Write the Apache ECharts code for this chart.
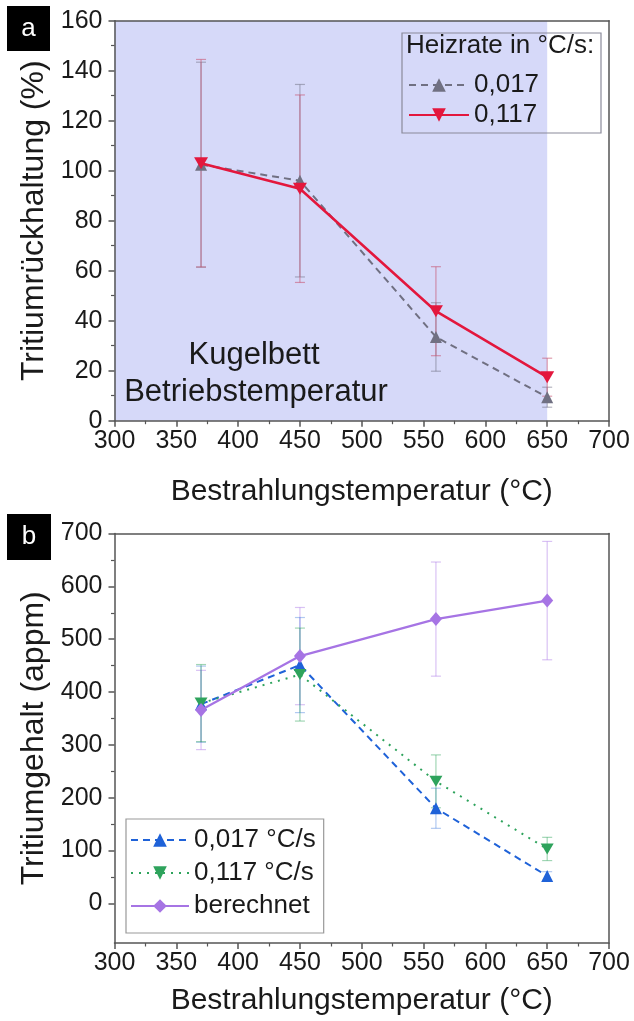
<!DOCTYPE html>
<html>
<head>
<meta charset="utf-8">
<script src="https://cdn.jsdelivr.net/npm/echarts@6/dist/echarts.min.js"></script>
<style>
html,body{margin:0;padding:0;background:#fff;}
#chart{width:634px;height:1021px;}
</style>
</head>
<body>
<div id="chart"></div>
<script>
// ---------- data ----------
const temps = [370, 450, 560, 650];
// panel a: Tritiumrückhaltung (%)
const retention017 = [102.4, 96, 33.5, 9.4];
const retention017Err = [41, 38.5, 13.7, 4];
const retention117 = [103, 92.8, 43.8, 17.4];
const retention117Err = [41.5, 37.5, 17.8, 7.6];
// panel b: Tritiumgehalt (appm)
const content017 = [377, 451, 180, 52];
const content017Err = [72, 90, 38, 8];
const content117 = [379, 433, 231, 103];
const content117Err = [73, 88, 50, 22];
const calculated = [366, 468, 538, 573];
const calculatedErr = [75, 92, 108, 112];
// shaded range (Kugelbett Betriebstemperatur)
const shadeRange = [300, 650];
// ticks
const xMin = 300, xMax = 700, xStep = 50;
const yTopMin = 0, yTopMax = 160, yTopStep = 20;
const yBotMin = -75, yBotMax = 700;
const yBotMajor = [0, 100, 200, 300, 400, 500, 600, 700];
const yBotMinor = [50, 150, 250, 350, 450, 550, 650];

const FONT = 'Liberation Sans, Arial, sans-serif';
const TXT = '#1a1a1a';
const AX = '#555';

const pts = (ys) => temps.map((t, i) => [t, ys[i]]);
const errPts = (ys, es) => temps.map((t, i) => [t, ys[i] - es[i], ys[i] + es[i]]);
const downTri = 'path://M0,0L10,0L5,8.66Z';

function errRender(color) {
  return function (params, api) {
    const x = api.value(0), lo = api.value(1), hi = api.value(2);
    const p1 = api.coord([x, hi]), p2 = api.coord([x, lo]);
    const w = 5;
    const style = { stroke: color, lineWidth: 1.2 };
    return {
      type: 'group', children: [
        { type: 'line', shape: { x1: p1[0], y1: p1[1], x2: p2[0], y2: p2[1] }, style },
        { type: 'line', shape: { x1: p1[0] - w, y1: p1[1], x2: p1[0] + w, y2: p1[1] }, style },
        { type: 'line', shape: { x1: p2[0] - w, y1: p2[1], x2: p2[0] + w, y2: p2[1] }, style }
      ]
    };
  };
}

const labelStyle = { fontFamily: FONT, fontSize: 25, color: TXT };
const nameStyle = { fontFamily: FONT, fontSize: 30, color: TXT };
const yNameStyle = { fontFamily: FONT, fontSize: 32, color: TXT };

function xAxisBottom(gridIndex, nameGap) {
  return {
    gridIndex, type: 'value', min: xMin, max: xMax, interval: xStep, position: 'bottom', z: 10,
    name: 'Bestrahlungstemperatur (°C)', nameLocation: 'middle', nameGap, nameTextStyle: nameStyle,
    axisLine: { show: true, onZero: false, lineStyle: { color: AX, width: 1.5 } },
    axisTick: { show: true, inside: false, length: 6, lineStyle: { color: AX, width: 1.5 } },
    minorTick: { show: true, splitNumber: 2, length: 3.5, lineStyle: { color: AX, width: 1.2 } },
    axisLabel: Object.assign({ margin: 8 }, labelStyle),
    splitLine: { show: false }
  };
}
function xAxisTop(gridIndex) {
  return {
    gridIndex, type: 'value', min: xMin, max: xMax, position: 'top', z: 10,
    axisLine: { show: true, onZero: false, lineStyle: { color: AX, width: 1.5 } },
    axisTick: { show: false }, axisLabel: { show: false }, splitLine: { show: false }
  };
}
function yAxisRight(gridIndex, min, max) {
  return {
    gridIndex, type: 'value', min, max, position: 'right', z: 10,
    axisLine: { show: true, onZero: false, lineStyle: { color: AX, width: 1.5 } },
    axisTick: { show: false }, axisLabel: { show: false }, splitLine: { show: false }
  };
}

const option = {
  animation: false,
  backgroundColor: '#fff',
  textStyle: { fontFamily: FONT },
  grid: [
    { left: 114.5, top: 20.7, width: 494.5, height: 400 },
    { left: 114.5, top: 533.5, width: 494.5, height: 409.5 }
  ],
  xAxis: [
    xAxisBottom(0, 56),
    xAxisTop(0),
    xAxisBottom(1, 43),
    xAxisTop(1)
  ],
  yAxis: [
    {
      gridIndex: 0, type: 'value', min: yTopMin, max: yTopMax, interval: yTopStep, position: 'left', z: 10,
      name: 'Tritiumrückhaltung (%)', nameLocation: 'middle', nameGap: 62, nameTextStyle: yNameStyle,
      axisLine: { show: true, onZero: false, lineStyle: { color: AX, width: 1.5 } },
      axisTick: { show: true, inside: false, length: 6, lineStyle: { color: AX, width: 1.5 } },
      minorTick: { show: true, splitNumber: 2, length: 3.5, lineStyle: { color: AX, width: 1.2 } },
      axisLabel: Object.assign({ margin: 12 }, labelStyle),
      splitLine: { show: false }
    },
    yAxisRight(0, yTopMin, yTopMax),
    {
      gridIndex: 1, type: 'value', min: yBotMin, max: yBotMax, position: 'left', z: 10,
      name: 'Tritiumgehalt (appm)', nameLocation: 'middle', nameGap: 62, nameTextStyle: yNameStyle,
      axisLine: { show: true, onZero: false, lineStyle: { color: AX, width: 1.5 } },
      axisTick: { show: true, inside: false, length: 6, customValues: yBotMajor, lineStyle: { color: AX, width: 1.5 } },
      axisLabel: Object.assign({ margin: 12, customValues: yBotMajor }, labelStyle),
      splitLine: { show: false }
    },
    {
      gridIndex: 1, type: 'value', min: yBotMin, max: yBotMax, position: 'left', z: 10,
      axisLine: { show: false, onZero: false },
      axisTick: { show: true, inside: false, length: 3.5, customValues: yBotMinor, lineStyle: { color: AX, width: 1.2 } },
      axisLabel: { show: false, customValues: yBotMinor },
      splitLine: { show: false }
    },
    yAxisRight(1, yBotMin, yBotMax)
  ],
  legend: [
    {
      orient: 'vertical', left: 403, top: 67, itemWidth: 60, itemHeight: 17, itemGap: 4,
      data: ['0,017', '0,117'],
      textStyle: { fontFamily: FONT, fontSize: 26, color: TXT }
    },
    {
      orient: 'vertical', left: 126, top: 819, itemWidth: 58, itemHeight: 17, itemGap: 7,
      padding: [8, 8, 14, 4], borderColor: '#999', borderWidth: 1.2,
      data: ['0,017 °C/s', '0,117 °C/s', 'berechnet'],
      textStyle: { fontFamily: FONT, fontSize: 26, color: TXT }
    }
  ],
  graphic: [
    { type: 'rect', shape: { x: 7, y: 6, width: 43, height: 45 }, style: { fill: '#000' } },
    { type: 'text', x: 28.5, y: 28.5, style: { text: 'a', fill: '#fff', font: '26px ' + FONT, textAlign: 'center', textVerticalAlign: 'middle' } },
    { type: 'rect', shape: { x: 7, y: 514, width: 44, height: 46 }, style: { fill: '#000' } },
    { type: 'text', x: 29, y: 537, style: { text: 'b', fill: '#fff', font: '26px ' + FONT, textAlign: 'center', textVerticalAlign: 'middle' } },
    { type: 'rect', z: 100, shape: { x: 402, y: 33, width: 199, height: 100 }, style: { fill: 'none', stroke: '#8a8a9a', lineWidth: 1.2 } },
    { type: 'text', z: 100, x: 406, y: 46, style: { text: 'Heizrate in °C/s:', fill: TXT, font: '26px ' + FONT, textAlign: 'left', textVerticalAlign: 'middle' } },
    { type: 'text', z: 100, x: 254, y: 355, style: { text: 'Kugelbett', fill: TXT, font: '31px ' + FONT, textAlign: 'center', textVerticalAlign: 'middle' } },
    { type: 'text', z: 100, x: 256, y: 392, style: { text: 'Betriebstemperatur', fill: TXT, font: '31px ' + FONT, textAlign: 'center', textVerticalAlign: 'middle' } }
  ],
  series: [
    // shaded area
    {
      type: 'line', name: 'shade', xAxisIndex: 0, yAxisIndex: 0, data: [], z: 0, silent: true,
      markArea: { silent: true, itemStyle: { color: '#d6d9f9' }, data: [[{ xAxis: shadeRange[0] }, { xAxis: shadeRange[1] }]] }
    },
    // panel a error bars
    { type: 'custom', name: 'err017a', xAxisIndex: 0, yAxisIndex: 0, z: 1, renderItem: errRender('rgba(120,120,140,0.55)'), encode: { x: 0, y: [1, 2] }, data: errPts(retention017, retention017Err) },
    { type: 'custom', name: 'err117a', xAxisIndex: 0, yAxisIndex: 0, z: 1, renderItem: errRender('rgba(200,90,120,0.6)'), encode: { x: 0, y: [1, 2] }, data: errPts(retention117, retention117Err) },
    {
      type: 'line', name: '0,017', xAxisIndex: 0, yAxisIndex: 0, z: 3, data: pts(retention017),
      color: '#707082', symbol: 'triangle', symbolSize: 12,
      lineStyle: { type: [7, 5], width: 2 }, itemStyle: { color: '#707082' }
    },
    {
      type: 'line', name: '0,117', xAxisIndex: 0, yAxisIndex: 0, z: 4, data: pts(retention117),
      color: '#e3173d', symbol: downTri, symbolSize: [14, 12],
      lineStyle: { width: 2.5 }, itemStyle: { color: '#e3173d' }
    },
    // panel b error bars
    { type: 'custom', name: 'errCalc', xAxisIndex: 2, yAxisIndex: 2, z: 1, renderItem: errRender('rgba(170,120,230,0.45)'), encode: { x: 0, y: [1, 2] }, data: errPts(calculated, calculatedErr) },
    { type: 'custom', name: 'err017b', xAxisIndex: 2, yAxisIndex: 2, z: 1, renderItem: errRender('rgba(31,99,214,0.35)'), encode: { x: 0, y: [1, 2] }, data: errPts(content017, content017Err) },
    { type: 'custom', name: 'err117b', xAxisIndex: 2, yAxisIndex: 2, z: 1, renderItem: errRender('rgba(47,163,90,0.45)'), encode: { x: 0, y: [1, 2] }, data: errPts(content117, content117Err) },
    {
      type: 'line', name: '0,017 °C/s', xAxisIndex: 2, yAxisIndex: 2, z: 3, data: pts(content017),
      color: '#1f62d8', symbol: 'triangle', symbolSize: 12,
      lineStyle: { type: [7, 5], width: 2 }, itemStyle: { color: '#1f62d8' }
    },
    {
      type: 'line', name: '0,117 °C/s', xAxisIndex: 2, yAxisIndex: 2, z: 3, data: pts(content117),
      color: '#2ea35c', symbol: downTri, symbolSize: [13, 11],
      lineStyle: { type: [2, 6], width: 2 }, itemStyle: { color: '#2ea35c' }
    },
    {
      type: 'line', name: 'berechnet', xAxisIndex: 2, yAxisIndex: 2, z: 4, data: pts(calculated),
      color: '#a674e4', symbol: 'diamond', symbolSize: [12, 14],
      lineStyle: { width: 2.2 }, itemStyle: { color: '#a674e4' }
    }
  ]
};

const chart = echarts.init(document.getElementById('chart'), null, { renderer: 'canvas' });
chart.setOption(option);
</script>
</body>
</html>
